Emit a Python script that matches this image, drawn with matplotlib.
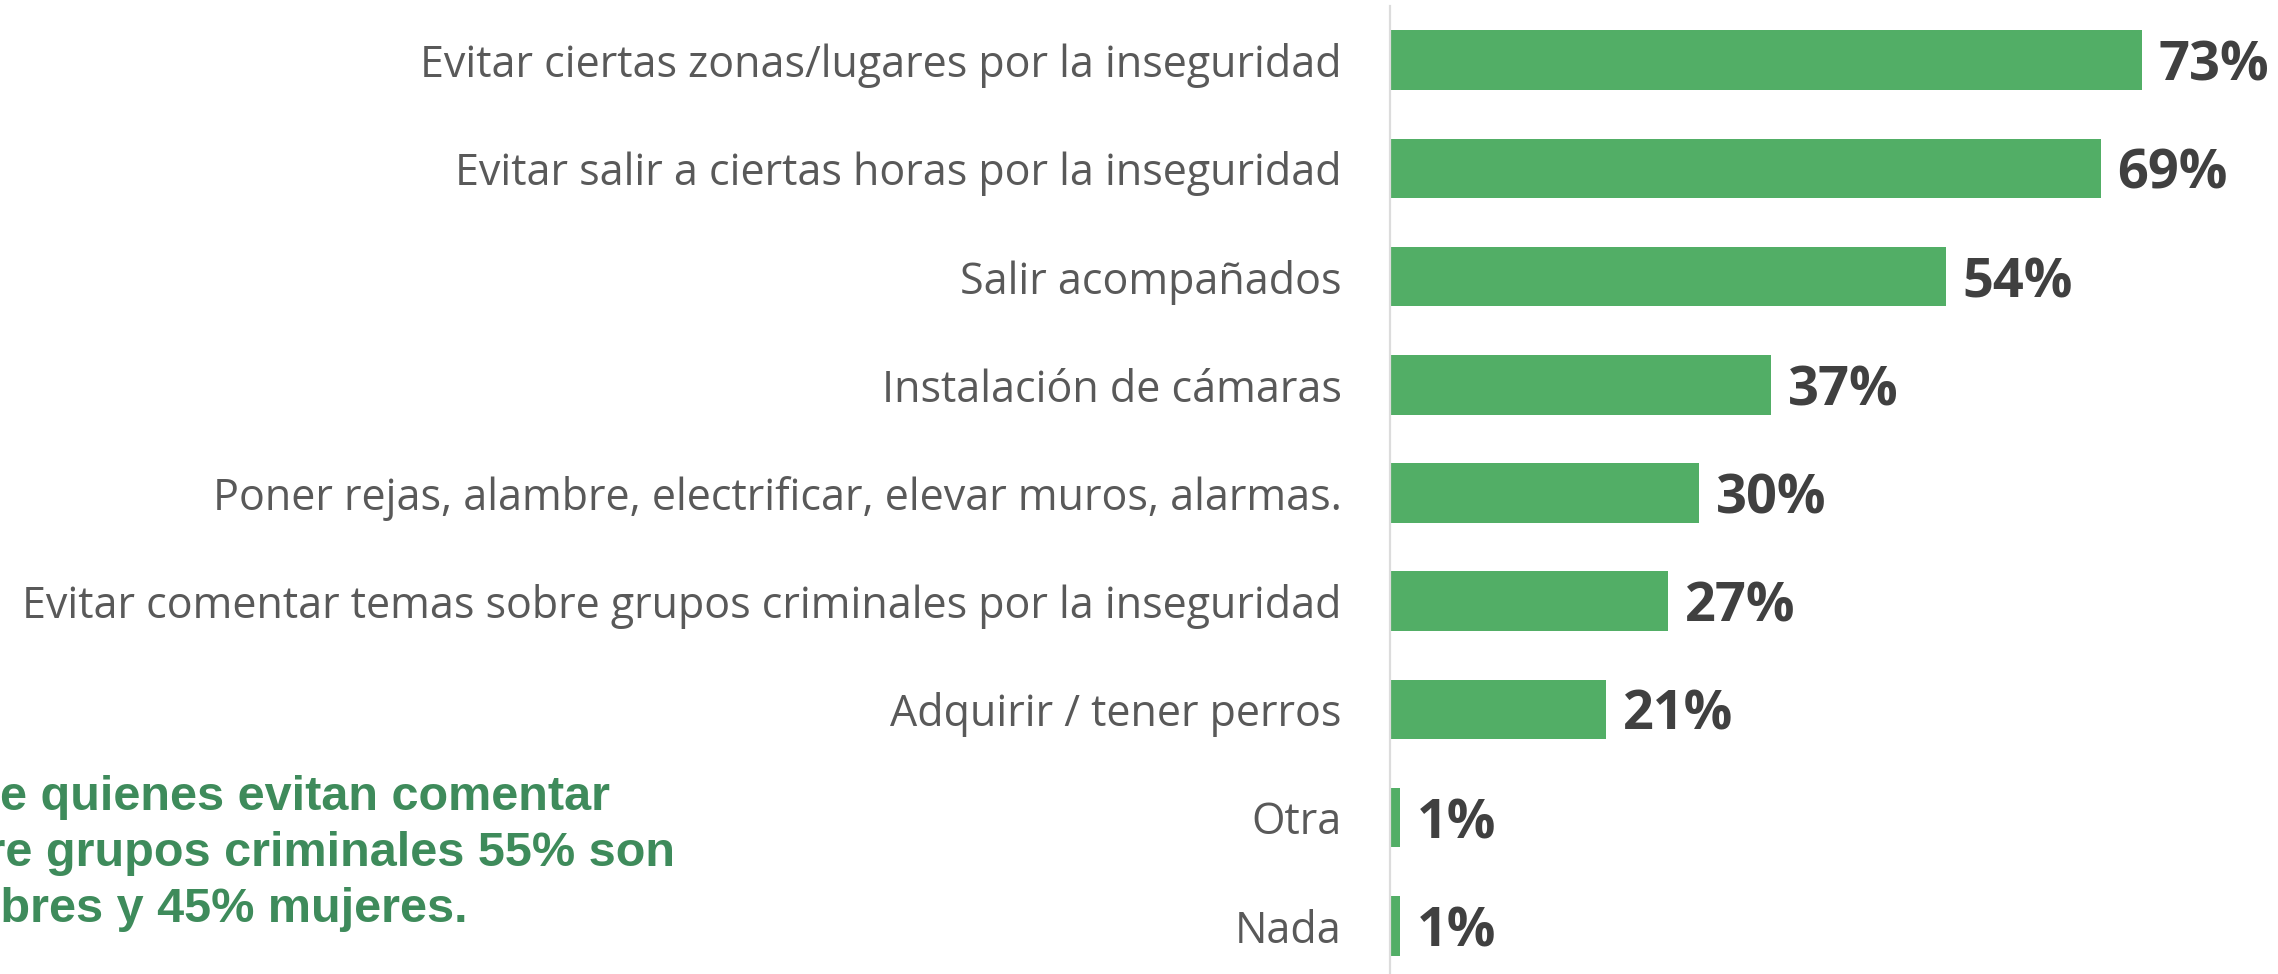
import matplotlib
matplotlib.use("Agg")
import matplotlib.pyplot as plt

# data
categories = [
    "Evitar ciertas zonas/lugares por la inseguridad",
    "Evitar salir a ciertas horas por la inseguridad",
    "Salir acompañados",
    "Instalación de cámaras",
    "Poner rejas, alambre, electrificar, elevar muros, alarmas.",
    "Evitar comentar temas sobre grupos criminales por la inseguridad",
    "Adquirir / tener perros",
    "Otra",
    "Nada",
]
values = [73, 69, 54, 37, 30, 27, 21, 1, 1]
note_lines = [
    "De quienes evitan comentar",
    "sobre grupos criminales 55% son",
    "hombres y 45% mujeres.",
]

BAR = "#52ae66"
NOTE = "#3e8b5b"
W, H = 2278, 974

fig = plt.figure(figsize=(W / 100, H / 100), dpi=100)
ax = fig.add_axes([1390 / W, -6 / H, 1 - 1390 / W, 1.0])

pos = list(range(len(categories)))
ax.barh(pos, values, height=0.55, color=BAR)
ax.set_ylim(len(categories) - 0.5, -0.5)
ax.set_xlim(0, (W - 1390) / 10.3)

ax.set_yticks(pos)
ax.set_yticklabels(categories, fontfamily="Open Sans", fontsize=31,
                   color="#595959")
ax.tick_params(axis="y", length=0, pad=35)
ax.set_xticks([])
for s in ["top", "right", "bottom"]:
    ax.spines[s].set_visible(False)
ax.spines["left"].set_color("#dcdcdc")
ax.spines["left"].set_linewidth(1.6)

for p, v in zip(pos, values):
    ax.annotate(f"{v}%", (v, p), xytext=(12, 0), textcoords="offset points",
                ha="left", va="center_baseline", fontsize=39,
                fontweight="bold", fontfamily="Open Sans", color="#404040")

# side note, cut off at the left edge like the original
fig.canvas.draw()
rend = fig.canvas.get_renderer()
note_kw = dict(fontsize=35, fontweight="bold", fontfamily="Liberation Sans",
               color=NOTE, ha="left", va="baseline")


def width_px(s):
    t = fig.text(0, 0, s, **note_kw)
    w = t.get_window_extent(rend).width
    t.remove()
    return w


hidden = [width_px("D"), width_px("sob") + 0.7 * width_px("r"), width_px("hom")]
baselines = [810, 866, 922]
for line, hid, yb in zip(note_lines, hidden, baselines):
    fig.text(-hid / W, 1 - yb / H, line, **note_kw)

fig.savefig("out.png", dpi=100)
